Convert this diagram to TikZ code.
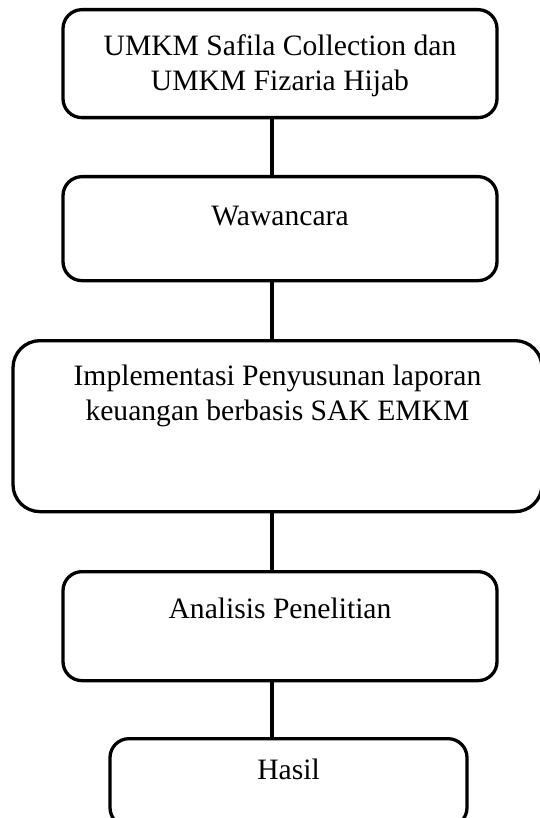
\documentclass[tikz,border=0pt]{standalone}
\usepackage{fontspec}
\setmainfont{Liberation Serif}
\usepackage{tikz}
\usetikzlibrary{positioning, calc}

\begin{document}
\begin{tikzpicture}[
    x=1pt, y=-1pt,
    box/.style={rectangle, draw, line width=3.3pt, rounded corners=19pt, align=center, inner xsep=0pt, inner ysep=0pt, anchor=north, font=\fontsize{29.6}{35}\selectfont, text=black},
    line/.style={line width=3.3pt, color=black}
]
\useasboundingbox (0,0) rectangle (539,818);

% Kotak alur penelitian
\node [box, minimum width=434pt, text height=81pt, text depth=27pt] (umkm) at (280, 8) {UMKM Safila Collection dan\\UMKM Fizaria Hijab};
\node [box, minimum width=434pt, text height=49pt, text depth=55pt] (wawancara) at (280, 175) {Wawancara};
\node [box, minimum width=529pt, text height=80pt, text depth=91pt, rounded corners=27pt] (implementasi) at (277.5, 339) {Implementasi Penyusunan laporan\\keuangan berbasis SAK EMKM};
\node [box, minimum width=434pt, text height=47pt, text depth=62pt] (analisis) at (280, 570) {Analisis Penelitian};
\node [box, minimum width=357pt, text height=41pt, text depth=47pt] (hasil) at (288.5, 737) {Hasil};

% Garis penghubung
\coordinate (spine) at (272, 0);
\draw [line] (umkm.south -| spine) -- (wawancara.north -| spine);
\draw [line] (wawancara.south -| spine) -- (implementasi.north -| spine);
\draw [line] (implementasi.south -| spine) -- (analisis.north -| spine);
\draw [line] (analisis.south -| spine) -- (hasil.north -| spine);

\end{tikzpicture}
\end{document}
